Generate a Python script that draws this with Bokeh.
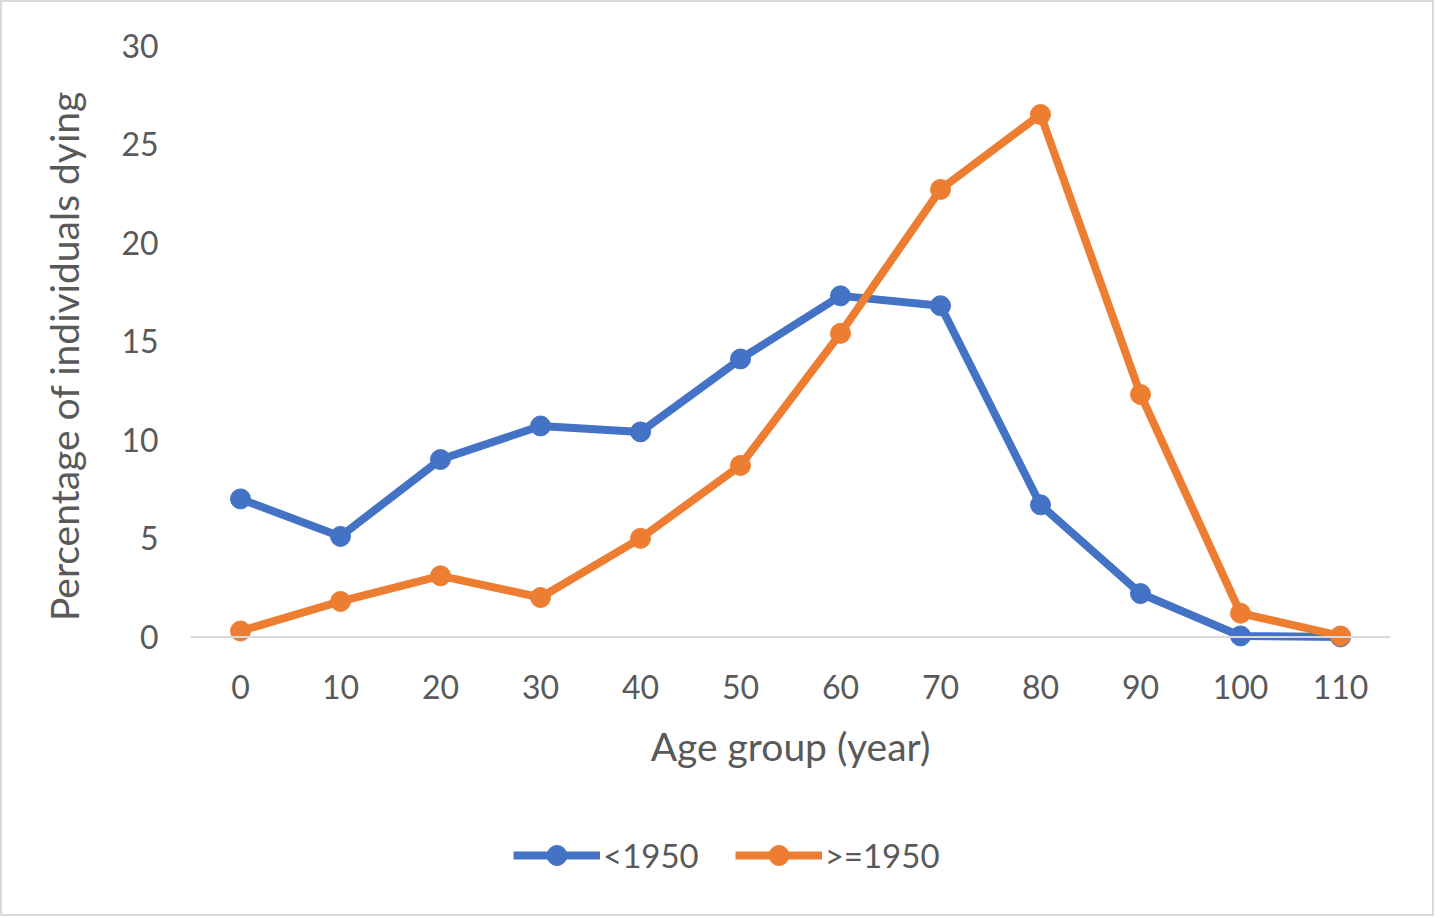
from bokeh.plotting import figure
from bokeh.layouts import column
from bokeh.models import (ColumnDataSource, FactorRange, Range1d, FixedTicker,
                          Legend, LegendItem, Span)
from bokeh.embed import file_html
from bokeh.resources import INLINE

# ---- data ----
age_groups = ["0", "10", "20", "30", "40", "50", "60", "70", "80", "90", "100", "110"]
before_1950 = [7.0, 5.1, 9.0, 10.7, 10.4, 14.1, 17.3, 16.8, 6.7, 2.2, 0.05, 0.0]
after_1950 = [0.3, 1.8, 3.1, 2.0, 5.0, 8.7, 15.4, 22.7, 26.5, 12.3, 1.2, 0.05]
y_ticks = [0, 5, 10, 15, 20, 25, 30]
series_names = ["<1950", ">=1950"]

BLUE = "#4472C4"
ORANGE = "#ED7D31"
TEXT = "#595959"
FONT = "Lato"
W = 1430

src = ColumnDataSource(dict(age=age_groups, b=before_1950, a=after_1950))

p = figure(x_range=FactorRange(*age_groups, range_padding=0),
           y_range=Range1d(-1.5, 30),
           width=W, height=794,
           output_backend="svg", toolbar_location=None,
           min_border_left=188, min_border_right=42,
           min_border_top=43, min_border_bottom=130)

p.outline_line_color = None
p.grid.visible = False
p.background_fill_color = "white"
p.border_fill_color = "white"

# baseline at zero
p.add_layout(Span(location=0, dimension="width", line_color="#D9D9D9", line_width=2))

lb = p.line("age", "b", source=src, line_color=BLUE, line_width=8, line_join="round")
cb = p.scatter("age", "b", source=src, size=20, fill_color=BLUE, line_color=BLUE)
la = p.line("age", "a", source=src, line_color=ORANGE, line_width=8, line_join="round")
ca = p.scatter("age", "a", source=src, size=20, fill_color=ORANGE, line_color=ORANGE)

# y axis
p.yaxis.ticker = FixedTicker(ticks=y_ticks)
p.yaxis.axis_line_color = None
p.yaxis.major_tick_line_color = None
p.yaxis.minor_tick_line_color = None
p.yaxis.major_tick_out = 0
p.yaxis.major_tick_in = 0
p.yaxis.major_label_standoff = 32
p.yaxis.major_label_text_font = FONT
p.yaxis.major_label_text_font_size = "32px"
p.yaxis.major_label_text_color = TEXT
p.yaxis.axis_label = "Percentage of individuals dying"
p.yaxis.axis_label_text_font = FONT
p.yaxis.axis_label_text_font_style = "normal"
p.yaxis.axis_label_text_font_size = "39px"
p.yaxis.axis_label_text_color = TEXT
p.yaxis.axis_label_standoff = 31

# x axis
p.xaxis.axis_line_color = None
p.xaxis.major_tick_line_color = None
p.xaxis.minor_tick_line_color = None
p.xaxis.major_tick_out = 0
p.xaxis.major_tick_in = 0
p.xaxis.major_label_standoff = 8
p.xaxis.major_label_text_font = FONT
p.xaxis.major_label_text_font_size = "32px"
p.xaxis.major_label_text_color = TEXT
p.xaxis.axis_label = "Age group (year)"
p.xaxis.axis_label_text_font = FONT
p.xaxis.axis_label_text_font_style = "normal"
p.xaxis.axis_label_text_font_size = "39px"
p.xaxis.axis_label_text_color = TEXT
p.xaxis.axis_label_standoff = 21

# ---- legend strip below the chart (same series, drawn out of view) ----
q = figure(width=W, height=118, x_range=p.x_range, y_range=Range1d(100, 200),
           output_backend="svg", toolbar_location=None,
           x_axis_location=None, y_axis_location=None, min_border=0)
q.outline_line_color = None
q.grid.visible = False
qlb = q.line("age", "b", source=src, line_color=BLUE, line_width=8)
qcb = q.scatter("age", "b", source=src, size=20, fill_color=BLUE, line_color=BLUE)
qla = q.line("age", "a", source=src, line_color=ORANGE, line_width=8)
qca = q.scatter("age", "a", source=src, size=20, fill_color=ORANGE, line_color=ORANGE)

legend = Legend(items=[LegendItem(label=series_names[0], renderers=[qlb, qcb]),
                       LegendItem(label=series_names[1], renderers=[qla, qca])],
                orientation="horizontal", location=(323, 34),
                glyph_width=87, glyph_height=50, label_standoff=3, spacing=36,
                label_text_font=FONT, label_text_font_size="33px",
                label_text_color=TEXT, border_line_color=None,
                background_fill_alpha=0, padding=0, margin=0)
q.add_layout(legend, "center")

layout = column(p, q, spacing=0, styles={"border": "2px solid #D9D9D9"})

open("out.html", "w").write(file_html(layout, INLINE))
